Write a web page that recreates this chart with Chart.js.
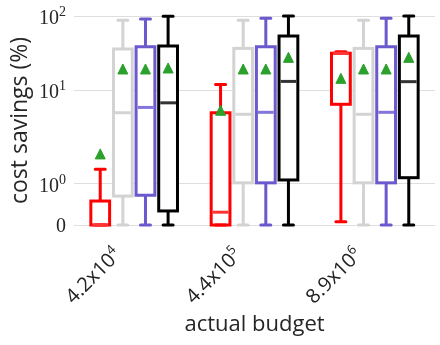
<!DOCTYPE html>
<html><head><meta charset="utf-8">
<script src="https://cdn.jsdelivr.net/npm/chart.js@4/dist/chart.umd.min.js"></script>
<style>html,body{margin:0;padding:0;background:#fff;overflow:hidden}</style>
</head><body>
<canvas id="c" width="440" height="345"></canvas>
<script>
// ---------- data ----------
const categories = ['4.2x10^4', '4.4x10^5', '8.9x10^6'];
const seriesColors = ['#ff0000', '#d3d3d3', '#6a5acd', '#000000'];
const medianColors = ['#ff3535', '#d3d3d3', '#8275db', '#333333'];
const yTickValues = [0, 1, 10, 100];
const yTickLabels = ['0', '10^0', '10^1', '10^2'];

// series 1 (red)
const s1Min = [0, 0, 0.08];
const s1Q1 = [0, 0, 6.5];
const s1Median = [0, 0.31, 31.6];
const s1Q3 = [0.58, 5.0, 31.6];
const s1Max = [1.35, 12, 33];
const s1Mean = [1.72, 5.4, 14.5];
// series 2 (light gray)
const s2Min = [0, 0, 0];
const s2Q1 = [0.70, 1.02, 1.02];
const s2Median = [5.0, 4.77, 4.77];
const s2Q3 = [36, 36.7, 36.7];
const s2Max = [88, 88, 88];
const s2Mean = [19.4, 19.4, 19.4];
// series 3 (purple)
const s3Min = [0, 0, 0];
const s3Q1 = [0.72, 1.02, 1.02];
const s3Median = [5.9, 5.07, 5.07];
const s3Q3 = [38.6, 38.6, 38.6];
const s3Max = [91, 93, 93];
const s3Mean = [19.4, 19.4, 19.4];
// series 4 (black)
const s4Min = [0, 0, 0];
const s4Q1 = [0.34, 1.09, 1.145];
const s4Median = [6.8, 13.2, 13.1];
const s4Q3 = [39.5, 53.8, 53.8];
const s4Max = [99, 100, 100];
const s4Mean = [20, 27.8, 27.8];

const series = [
  {min: s1Min, q1: s1Q1, med: s1Median, q3: s1Q3, max: s1Max, mean: s1Mean},
  {min: s2Min, q1: s2Q1, med: s2Median, q3: s2Q3, max: s2Max, mean: s2Mean},
  {min: s3Min, q1: s3Q1, med: s3Median, q3: s3Q3, max: s3Max, mean: s3Mean},
  {min: s4Min, q1: s4Q1, med: s4Median, q3: s4Q3, max: s4Max, mean: s4Mean}
];

// ---------- symlog scale (linthresh 2, linscale 1, base 10) ----------
const LT = 2, LS = 1, ADJ = LS / (1 - 1 / 10);
function fwd(x) { const a = Math.abs(x), s = Math.sign(x); return a <= LT ? x * ADJ : s * LT * (ADJ + Math.log10(a / LT)); }
function inv(t) { const a = Math.abs(t), s = Math.sign(t); return a <= LT * ADJ ? t / ADJ : s * LT * Math.pow(10, a / LT - ADJ); }

class SymlogScale extends Chart.LinearScale {
  static id = 'symlog';
  static defaults = {};
  buildTicks() {
    this.min = this.options.min; this.max = this.options.max;
    return yTickValues.map(v => ({value: v}));
  }
  getPixelForValue(v) {
    const a = fwd(this.min), b = fwd(this.max);
    return this.getPixelForDecimal((fwd(v) - a) / (b - a));
  }
  getValueForPixel(p) {
    const a = fwd(this.min), b = fwd(this.max);
    return inv(a + this.getDecimalForPixel(p) * (b - a));
  }
}
Chart.register(SymlogScale);

const TICK_SERIF = '"Liberation Serif", "DejaVu Serif", serif';
const SANS = '"Open Sans", Lato, sans-serif';

function drawSup(ctx, base, exp, x, y, baseFont, supFont, raise) {
  // right-aligned at x, baseline y
  ctx.font = supFont; const we = ctx.measureText(exp).width;
  ctx.font = baseFont; const wb = ctx.measureText(base).width;
  ctx.textAlign = 'left'; ctx.textBaseline = 'alphabetic';
  ctx.font = baseFont; ctx.fillText(base, x - we - wb, y);
  ctx.font = supFont; ctx.fillText(exp, x - we, y - raise);
}

const boxPlugin = {
  id: 'boxes',
  afterDatasetsDraw(chart) {
    const ctx = chart.ctx, ys = chart.scales.y;
    ctx.save();
    series.forEach((s, d) => {
      const meta = chart.getDatasetMeta(d);
      const col = seriesColors[d];
      meta.data.forEach((bar, i) => {
        const x = bar.x, w = bar.width;
        const pMin = ys.getPixelForValue(s.min[i]), pQ1 = ys.getPixelForValue(s.q1[i]);
        const pMed = ys.getPixelForValue(s.med[i]), pQ3 = ys.getPixelForValue(s.q3[i]);
        const pMax = ys.getPixelForValue(s.max[i]);
        ctx.lineWidth = 3; ctx.strokeStyle = col; ctx.lineCap = 'butt';
        ctx.beginPath();
        ctx.moveTo(x, pMin); ctx.lineTo(x, pQ1);
        ctx.moveTo(x, pQ3); ctx.lineTo(x, pMax);
        ctx.stroke();
        ctx.lineCap = 'round';
        ctx.beginPath();
        ctx.moveTo(x - 5, pMin); ctx.lineTo(x + 5, pMin);
        ctx.moveTo(x - 5, pMax); ctx.lineTo(x + 5, pMax);
        ctx.stroke();
        ctx.lineCap = 'butt'; ctx.lineJoin = 'miter';
        ctx.strokeRect(x - w / 2, pQ3, w, pQ1 - pQ3);
        ctx.strokeStyle = medianColors[d];
        ctx.beginPath(); ctx.moveTo(x - w / 2 + 1.5, pMed); ctx.lineTo(x + w / 2 - 1.5, pMed); ctx.stroke();
      });
    });
    // means
    series.forEach((s, d) => {
      const meta = chart.getDatasetMeta(d);
      meta.data.forEach((bar, i) => {
        const x = bar.x, y = ys.getPixelForValue(s.mean[i]);
        ctx.fillStyle = '#2ca02c'; ctx.strokeStyle = '#2ca02c'; ctx.lineWidth = 1; ctx.lineJoin = 'miter';
        ctx.beginPath(); ctx.moveTo(x, y - 5); ctx.lineTo(x - 5, y + 5); ctx.lineTo(x + 5, y + 5); ctx.closePath();
        ctx.fill(); ctx.stroke();
      });
    });
    // y tick labels
    ctx.fillStyle = '#262626';
    yTickValues.forEach((v, k) => {
      const py = ys.getPixelForValue(v);
      const parts = yTickLabels[k].split('^');
      if (parts.length === 1) {
        ctx.font = '20px ' + TICK_SERIF; ctx.textAlign = 'right'; ctx.textBaseline = 'alphabetic';
        ctx.fillText(parts[0], 66, py + 7);
      } else {
        drawSup(ctx, parts[0], parts[1], 66, py + 8, '20px ' + TICK_SERIF, '14px ' + TICK_SERIF, 8);
      }
    });
    // x tick labels (rotated 45)
    const xs = chart.scales.x;
    categories.forEach((c, i) => {
      const px = xs.getPixelForValue(i);
      const parts = c.split('^');
      ctx.save();
      ctx.translate(px - 12, 256);
      ctx.rotate(-Math.PI / 4);
      ctx.fillStyle = '#222222';
      drawSup(ctx, parts[0], parts[1], 0, 0, '20px ' + SANS, '13px ' + SANS, 8);
      ctx.restore();
    });
    ctx.restore();
  }
};

new Chart(document.getElementById('c'), {
  type: 'bar',
  data: {
    labels: categories,
    datasets: series.map((s, d) => ({
      data: categories.map((_, i) => [s.q1[i], s.q3[i]]),
      backgroundColor: '#ffffff',
      borderWidth: 0,
      clip: false
    }))
  },
  options: {
    responsive: false,
    animation: false,
    devicePixelRatio: 1,
    categoryPercentage: 0.752,
    barPercentage: 0.83,
    layout: {padding: {top: 16, right: 5, left: 0, bottom: 0}},
    plugins: {legend: {display: false}, tooltip: {enabled: false}},
    scales: {
      x: {
        type: 'category',
        grid: {display: false, drawTicks: false},
        border: {display: false},
        ticks: {display: false},
        title: {display: true, text: 'actual budget', color: '#262626',
          font: {family: SANS, size: 22}, padding: {top: 0, bottom: 7}},
        afterFit(scale) { scale.height = 120; }
      },
      y: {
        type: 'symlog',
        min: 0, max: 100,
        grid: {color: '#dedede', lineWidth: 1, drawTicks: false},
        border: {display: false},
        ticks: {display: false},
        title: {display: true, text: 'cost savings (%)', color: '#262626',
          font: {family: SANS, size: 23}, padding: {top: 7, bottom: 0}},
        afterFit(scale) { scale.width = 74; }
      }
    }
  },
  plugins: [boxPlugin]
});
</script>
</body></html>
